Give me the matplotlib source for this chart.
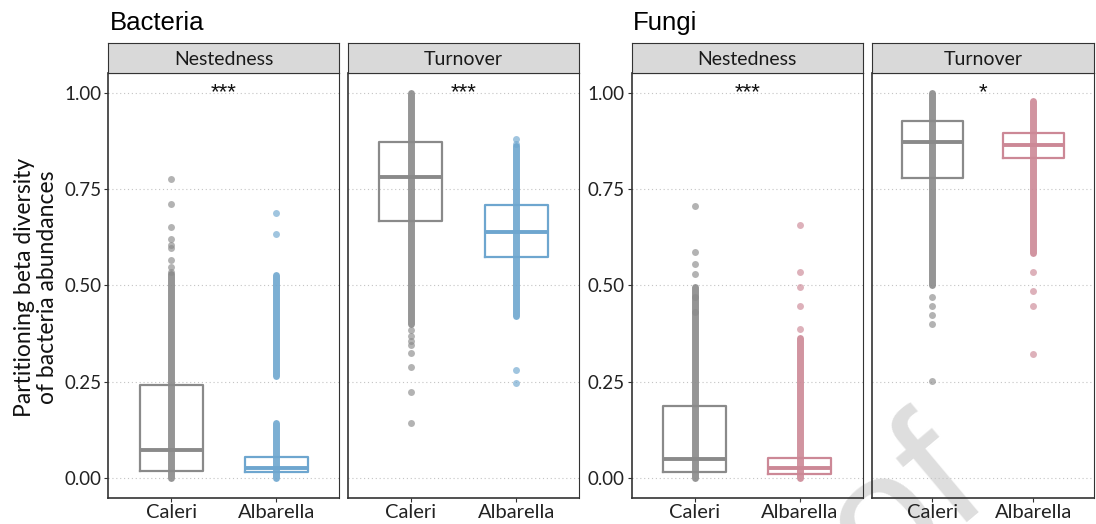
import numpy as np
import matplotlib.pyplot as plt

W, H = 1096, 524

groups = ["Caleri", "Albarella"]
facets = ["Nestedness", "Turnover"]

# box summaries (q1, median, q3) per site: [Caleri, Albarella]
bac_nes_q1 = [0.018, 0.015]
bac_nes_med = [0.073, 0.027]
bac_nes_q3 = [0.241, 0.055]
bac_tur_q1 = [0.667, 0.574]
bac_tur_med = [0.782, 0.639]
bac_tur_q3 = [0.871, 0.709]

fun_nes_q1 = [0.016, 0.010]
fun_nes_med = [0.049, 0.027]
fun_nes_q3 = [0.187, 0.053]
fun_tur_q1 = [0.779, 0.831]
fun_tur_med = [0.872, 0.864]
fun_tur_q3 = [0.927, 0.896]

# ranges where the pairwise values form a continuous column
bac_nes_dense = [[(0.0, 0.53)], [(0.0, 0.142), (0.265, 0.527)]]
bac_tur_dense = [[(0.40, 1.0)], [(0.42, 0.862)]]
fun_nes_dense = [[(0.0, 0.497)], [(0.0, 0.363)]]
fun_tur_dense = [[(0.501, 1.0)], [(0.583, 0.978)]]

# isolated values outside the dense columns
bac_nes_pts = [[0.777, 0.710, 0.652, 0.621, 0.605, 0.598, 0.566, 0.548, 0.535],
               [0.688, 0.632]]
bac_tur_pts = [[0.385, 0.370, 0.355, 0.345, 0.325, 0.289, 0.224, 0.142],
               [0.879, 0.866, 0.280, 0.246]]
fun_nes_pts = [[0.707, 0.587, 0.555, 0.529, 0.470, 0.430],
               [0.657, 0.534, 0.497, 0.447, 0.386]]
fun_tur_pts = [[0.471, 0.447, 0.423, 0.401, 0.252],
               [0.535, 0.486, 0.447, 0.321]]

signif = ["***", "***", "***", "*"]

grey = "#8a8a8a"
blue = "#6ea6cf"
pink = "#cc8896"

fig = plt.figure(figsize=(W / 100, H / 100), dpi=100)


def px_axes(x0, y0, x1, y1):
    return fig.add_axes([x0 / W, 1 - y1 / H, (x1 - x0) / W, (y1 - y0) / H])


panel_x = [(108.3, 339.3), (347.5, 579.5), (631.7, 863.0), (871.5, 1094.0)]
strip_top, top, bottom = 42.7, 73.3, 497.5


def draw_panel(ax, q1, med, q3, dense, pts, colors, star, show_y):
    ax.patch.set_alpha(0)
    ax.set_xlim(0.4, 2.6)
    ax.set_ylim(-0.05, 1.05)
    ax.set_yticks([0, 0.25, 0.5, 0.75, 1.0])
    ax.set_xticks([1, 2])
    ax.set_xticklabels(groups)
    ax.yaxis.grid(True, linestyle=(0, (1, 2.5)), color="#c4c4c4", lw=0.8)
    ax.set_axisbelow(True)
    for i in range(2):
        x = i + 1
        for lo, hi in dense[i]:
            ax.plot([x, x], [lo, hi], color=colors[i], lw=5, alpha=0.9,
                    solid_capstyle="round", zorder=2)
        ax.plot(np.full(len(pts[i]), x), pts[i], "o", ms=5, color=colors[i],
                alpha=0.65, mec="none", zorder=2)
    stats = [dict(q1=q1[i], med=med[i], q3=q3[i], whislo=q1[i], whishi=q3[i],
                  fliers=[]) for i in range(2)]
    bp = ax.bxp(stats, positions=[1, 2], widths=0.6, showcaps=False,
                showfliers=False, manage_ticks=False)
    for i in range(2):
        bp["boxes"][i].set(color=colors[i], lw=1.6, zorder=3)
        bp["medians"][i].set(color=colors[i], lw=2.8, zorder=3)
    for w in bp["whiskers"]:
        w.set_visible(False)
    ax.text(1.5, 1.0, star, ha="center", va="center", fontsize=16,
            family="Liberation Sans", color="#111111")
    for s in ax.spines.values():
        s.set_color("#333333")
        s.set_linewidth(0.8)
    ax.spines["left"].set_linewidth(1.2)
    ax.spines["bottom"].set_linewidth(1.2)
    ax.tick_params(axis="both", length=3, width=0.8, color="#333333",
                   labelcolor="#222222", pad=2)
    ax.tick_params(axis="x", labelsize=14.5)
    ax.tick_params(axis="y", labelsize=13.5)
    for lab in ax.get_xticklabels() + ax.get_yticklabels():
        lab.set_family("Lato")
    if not show_y:
        ax.tick_params(axis="y", left=False, labelleft=False)
    else:
        ax.set_yticklabels(["0.00", "0.25", "0.50", "0.75", "1.00"])


data = [
    (bac_nes_q1, bac_nes_med, bac_nes_q3, bac_nes_dense, bac_nes_pts, [grey, blue]),
    (bac_tur_q1, bac_tur_med, bac_tur_q3, bac_tur_dense, bac_tur_pts, [grey, blue]),
    (fun_nes_q1, fun_nes_med, fun_nes_q3, fun_nes_dense, fun_nes_pts, [grey, pink]),
    (fun_tur_q1, fun_tur_med, fun_tur_q3, fun_tur_dense, fun_tur_pts, [grey, pink]),
]

for k, (x0, x1) in enumerate(panel_x):
    ax = px_axes(x0, top, x1, bottom)
    q1, med, q3, dense, pts, cols = data[k]
    draw_panel(ax, q1, med, q3, dense, pts, cols, signif[k], k % 2 == 0)

    strip = px_axes(x0, strip_top, x1, top)
    strip.set_facecolor("#d9d9d9")
    strip.set_xticks([])
    strip.set_yticks([])
    for s in strip.spines.values():
        s.set_color("#333333")
        s.set_linewidth(0.8)
    strip.text(0.5, 0.45, facets[k % 2], ha="center", va="center",
               fontsize=14, family="Lato", color="#1a1a1a")

fig.text(110 / W, 1 - 30 / H, "Bacteria", fontsize=18.5,
         family="Liberation Sans", ha="left", va="baseline")
fig.text(633 / W, 1 - 30 / H, "Fungi", fontsize=18.5,
         family="Liberation Sans", ha="left", va="baseline")
fig.text(36 / W, 1 - 287 / H, "Partitioning beta diversity\nof bacteria abundances",
         rotation=90, ha="center", va="center", fontsize=16.5, family="Lato",
         color="#111111", linespacing=1.15)

# faint watermark across the lower right, kept behind the panels
fig.text(905 / W, 1 - 508 / H, "of", rotation=40, ha="center", va="center",
         fontsize=128, family="Liberation Sans", color="#dedede",
         zorder=-1, clip_on=False)

fig.savefig("out.png", dpi=100)
